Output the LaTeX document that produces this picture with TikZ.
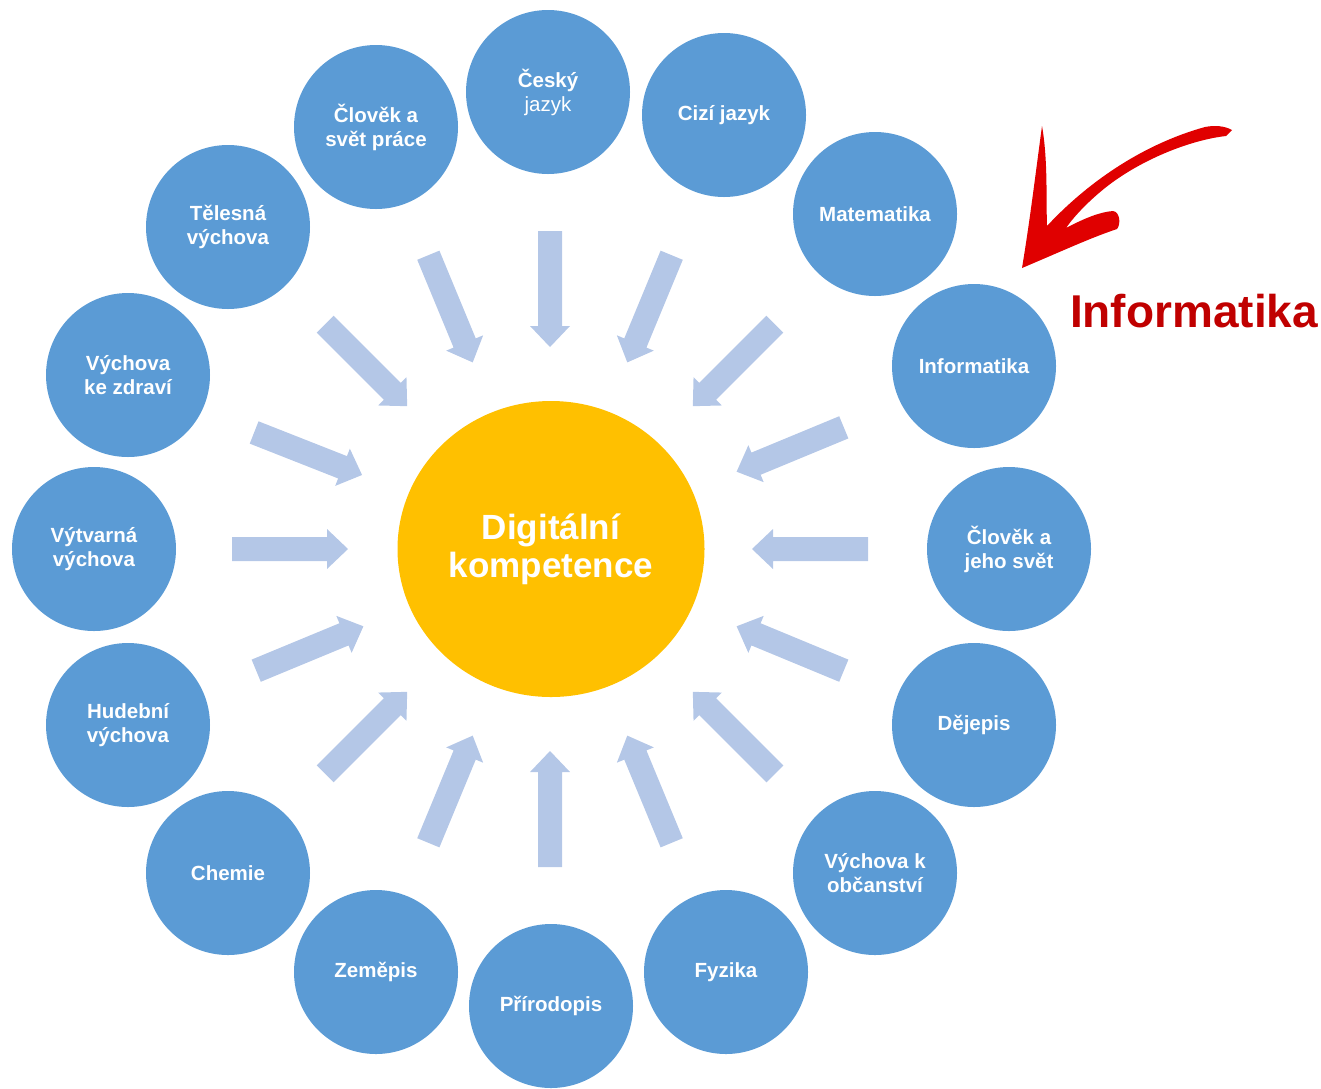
\documentclass[tikz,border=0pt]{standalone}
\usepackage{fontspec}
\setmainfont{Liberation Sans}
\definecolor{subj}{HTML}{5B9BD5}
\definecolor{arr}{HTML}{B4C7E7}
\definecolor{core}{HTML}{FFC000}
\definecolor{redtxt}{HTML}{C00000}
\definecolor{redarr}{HTML}{E00000}
\tikzset{
  subject/.style={circle, fill=subj, draw=none, minimum size=164pt, inner sep=0pt,
    align=center, text=white, font=\fontsize{20.5}{24}\selectfont\bfseries},
  corebox/.style={ellipse, fill=core, draw=none, minimum width=307pt, minimum height=296pt,
    inner sep=0pt, align=center, text=white, font=\fontsize{35}{38}\selectfont\bfseries},
  blockarrow/.style={fill=arr, draw=none}
}
\usetikzlibrary{shapes.geometric}
\begin{document}
\begin{tikzpicture}[x=1pt,y=1pt]
\useasboundingbox (0,0) rectangle (1321,-1088);
% centre
\node[corebox] (dk) at (551,-549) {Digitální\\kompetence};
% block arrows
\foreach \a in {90,67.5,45,22.5,0,-22.5,-45,-67.5,-90,-112.5,-135,-157.5,180,158.5,135,112.5}{
  \begin{scope}[shift={(550,-549)}, rotate=\a]
    \fill[blockarrow] (318,12) -- (223,12) -- (223,20) -- (202,0) -- (223,-20) -- (223,-12) -- (318,-12) -- cycle;
  \end{scope}
}
% subjects
\node[subject] (cj) at (548,-92) {Český\\\mdseries jazyk};
\node[subject] (ciz) at (724,-115) {Cizí jazyk};
\node[subject] (mat) at (875,-214) {Matematika};
\node[subject] (inf) at (974,-366) {Informatika};
\node[subject] (cajs) at (1009,-549) {Člověk a\\jeho svět};
\node[subject] (dej) at (974,-725) {Dějepis};
\node[subject] (vko) at (875,-873) {Výchova k\\občanství};
\node[subject] (fyz) at (726,-972) {Fyzika};
\node[subject] (pri) at (551,-1006) {Přírodopis};
\node[subject] (zem) at (376,-972) {Zeměpis};
\node[subject] (che) at (228,-873) {Chemie};
\node[subject] (hv) at (128,-725) {Hudební\\výchova};
\node[subject] (vv) at (94,-549) {Výtvarná\\výchova};
\node[subject] (vkz) at (128,-375) {Výchova\\ke zdraví};
\node[subject] (tv) at (228,-227) {Tělesná\\výchova};
\node[subject] (casp) at (376,-127) {Člověk a\\svět práce};
% red label
\node[text=redtxt, font=\fontsize{46}{50}\selectfont\bfseries, inner sep=0pt] (lbl) at (1194,-311) {Informatika};
% red brush arrow
\fill[redarr]
  (1022,-268) .. controls (1030,-220) and (1036,-170) .. (1042,-126)
  .. controls (1048,-160) and (1046,-200) .. (1047,-226)
  .. controls (1085,-185) and (1140,-145) .. (1205,-127)
  .. controls (1215,-125) and (1225,-126) .. (1232,-130)
  -- (1226,-136)
  .. controls (1190,-140) and (1140,-160) .. (1105,-188)
  .. controls (1090,-200) and (1075,-215) .. (1066,-228)
  .. controls (1085,-218) and (1100,-212) .. (1113,-211)
  .. controls (1120,-212) and (1121,-224) .. (1117,-229)
  .. controls (1090,-238) and (1060,-252) .. (1022,-268) -- cycle;
\end{tikzpicture}
\end{document}
